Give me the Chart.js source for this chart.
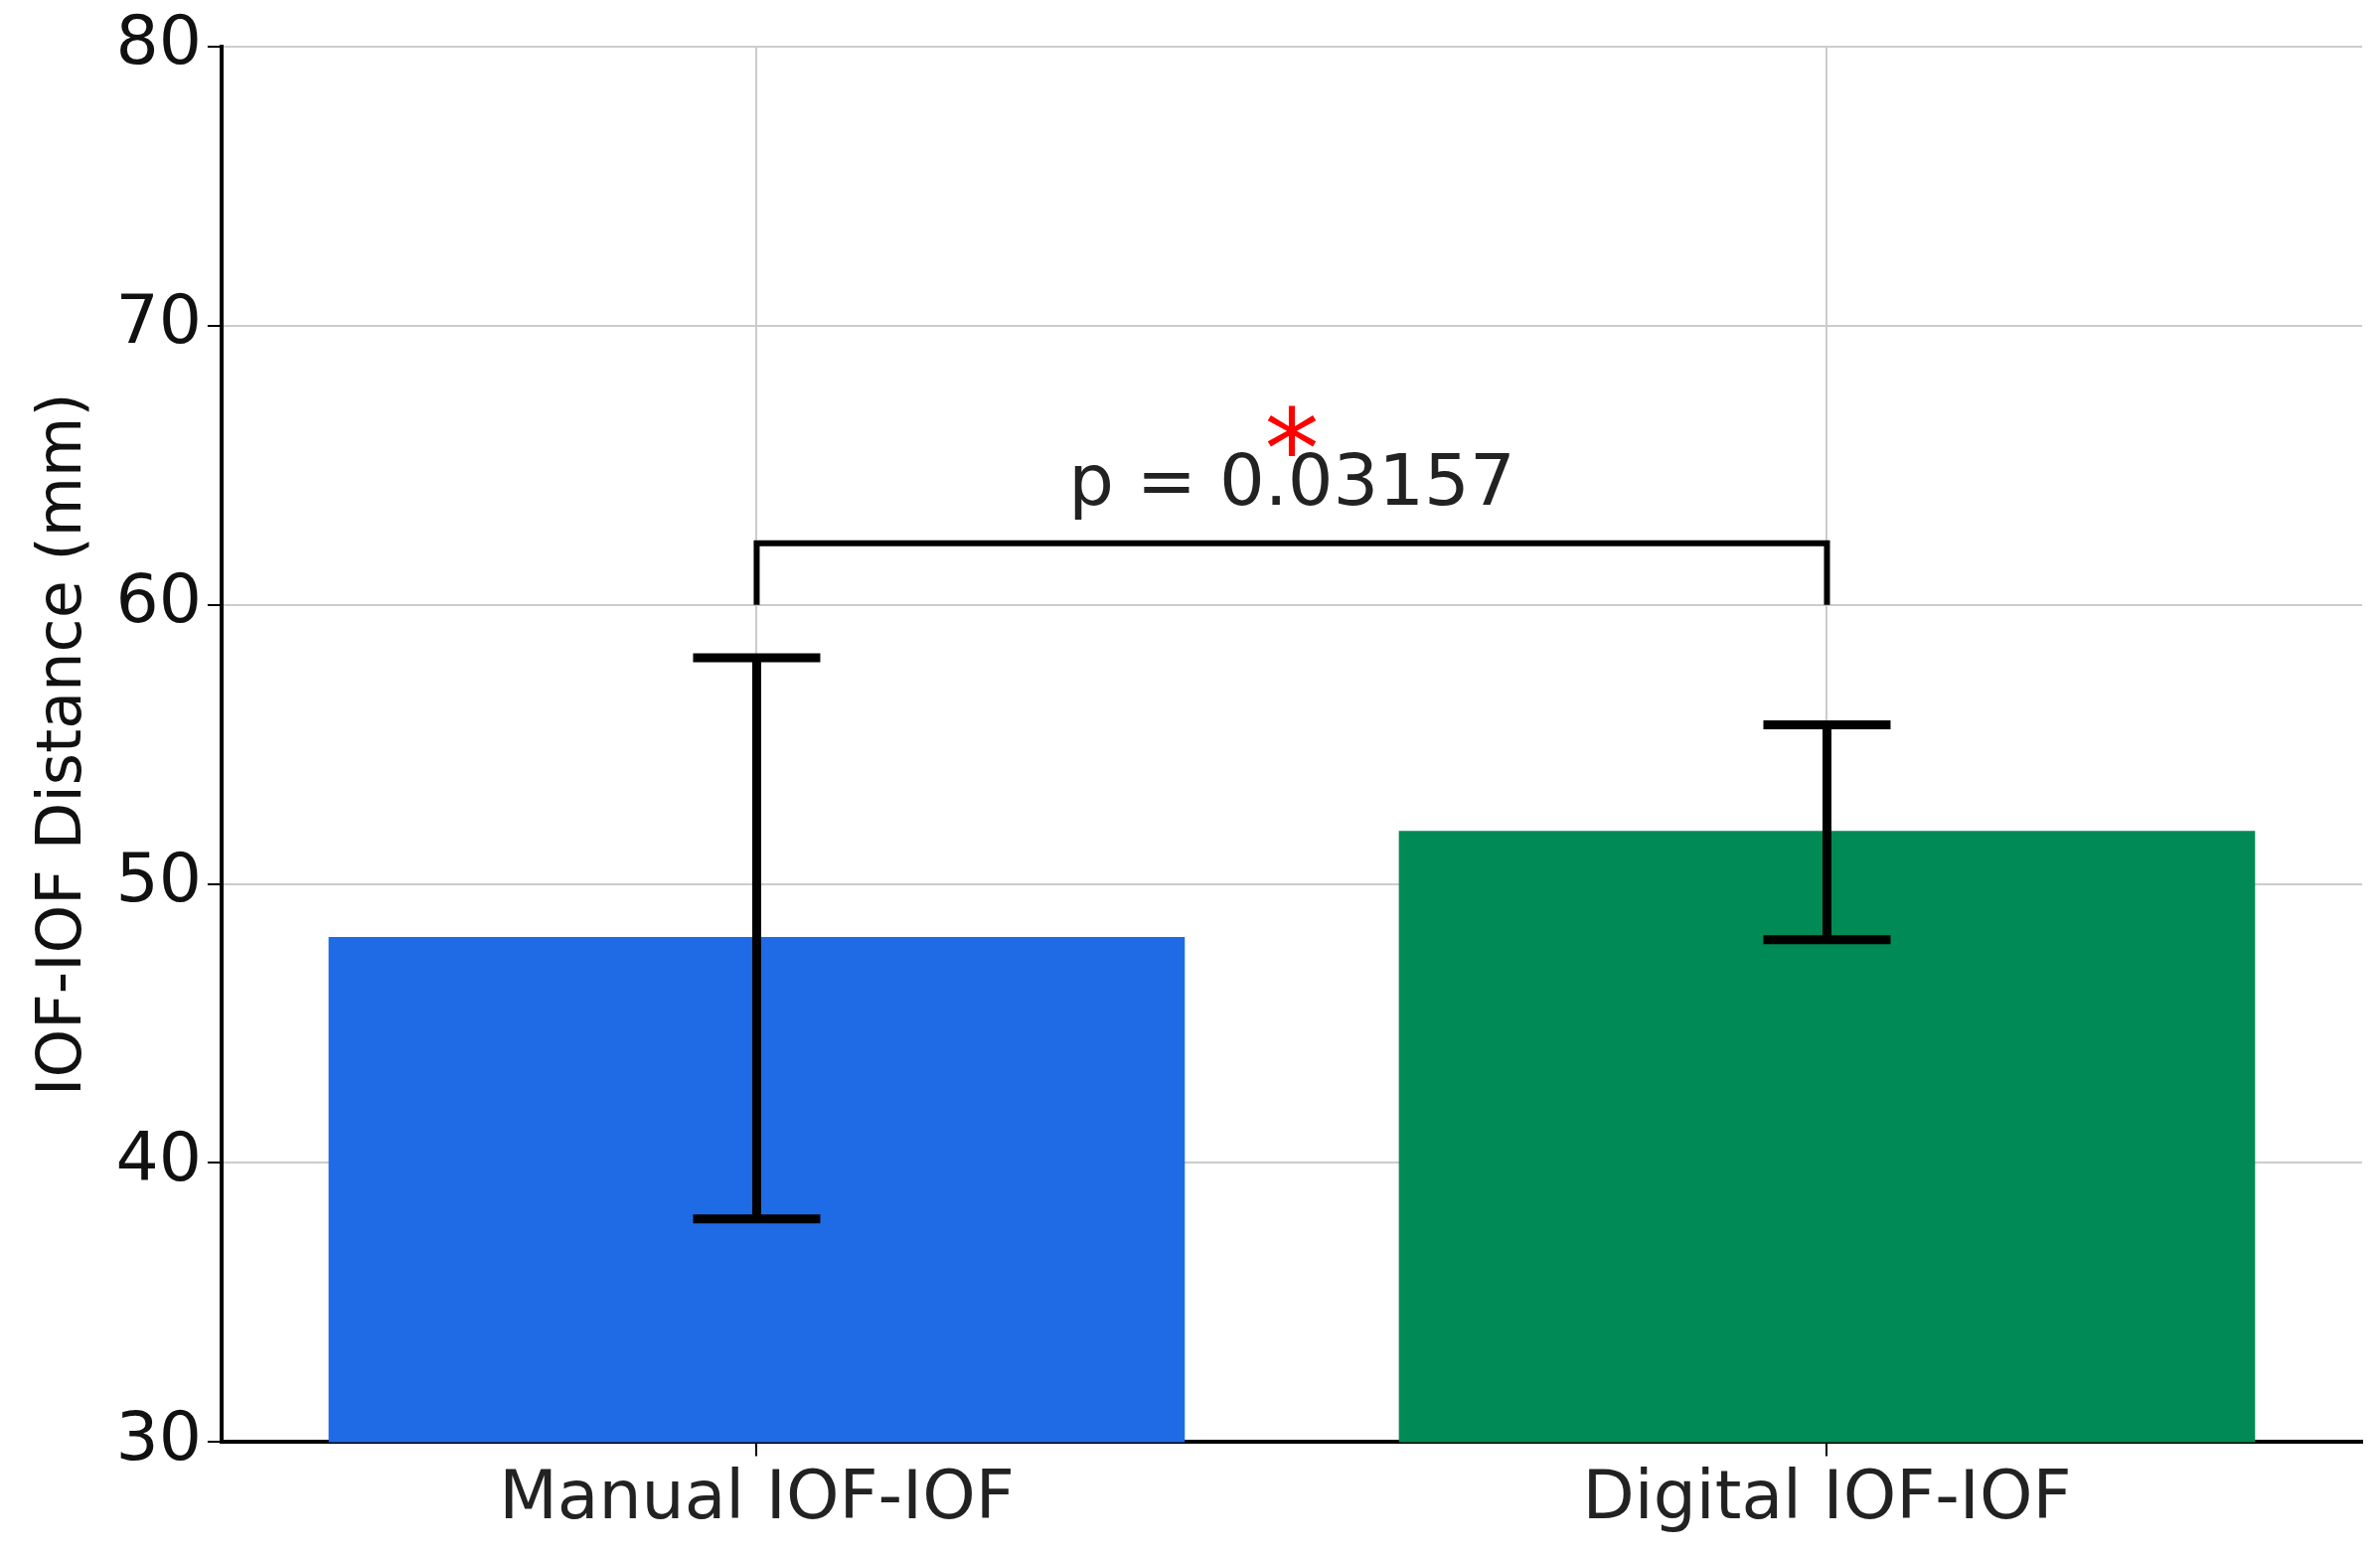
<!DOCTYPE html>
<html><head><meta charset="utf-8">
<script src="https://cdn.jsdelivr.net/npm/chart.js@4"></script>
<style>html,body{margin:0;padding:0;background:#fff}#c{width:2395px;height:1565px}</style>
</head><body><div id="c"><canvas id="cv"></canvas></div>
<script>
const categories = ["Manual IOF-IOF", "Digital IOF-IOF"];
const means = [48.1, 51.9];
const errLow = [38.0, 48.0];
const errHigh = [58.1, 55.7];
const yTicks = [30, 40, 50, 60, 70, 80];
const pText = "p = 0.03157";
const bracketY = 62.2, bracketFoot = 60.0, pTextY = 63.6, starY = 66.0;

const overlay = {
  id: 'overlay',
  afterDatasetsDraw(chart) {
    const ctx = chart.ctx, x = chart.scales.x, y = chart.scales.y;
    ctx.save();
    ctx.strokeStyle = '#000'; ctx.lineWidth = 9; ctx.lineCap = 'butt';
    means.forEach((m, i) => {
      const cx = x.getPixelForValue(i);
      const y1 = y.getPixelForValue(errLow[i]), y2 = y.getPixelForValue(errHigh[i]);
      ctx.beginPath();
      ctx.moveTo(cx, y1); ctx.lineTo(cx, y2);
      ctx.moveTo(cx - 64, y1); ctx.lineTo(cx + 64, y1);
      ctx.moveTo(cx - 64, y2); ctx.lineTo(cx + 64, y2);
      ctx.stroke();
    });
    const x0 = x.getPixelForValue(0), x1 = x.getPixelForValue(1);
    ctx.lineWidth = 6;
    ctx.beginPath();
    ctx.moveTo(x0, y.getPixelForValue(bracketFoot));
    ctx.lineTo(x0, y.getPixelForValue(bracketY));
    ctx.lineTo(x1, y.getPixelForValue(bracketY));
    ctx.lineTo(x1, y.getPixelForValue(bracketFoot));
    ctx.stroke();
    const mx = (x0 + x1) / 2;
    ctx.fillStyle = '#222'; ctx.textAlign = 'center'; ctx.textBaseline = 'alphabetic';
    ctx.font = '72px "DejaVu Sans"';
    ctx.fillText(pText, mx, y.getPixelForValue(pTextY));
    ctx.fillStyle = '#ff0000'; ctx.font = '110px "DejaVu Sans"';
    ctx.textBaseline = 'middle';
    ctx.fillText('*', mx, y.getPixelForValue(starY) + 22);
    ctx.restore();
  }
};

new Chart(document.getElementById('cv'), {
  type: 'bar',
  data: { labels: categories, datasets: [{ data: means, backgroundColor: ['#1f6be6', '#008a55'], barPercentage: 0.8, categoryPercentage: 1.0 }] },
  options: {
    responsive: true, maintainAspectRatio: false, animation: false,
    layout: { padding: { top: 30, right: 18, bottom: 10, left: 20 } },
    plugins: { legend: { display: false }, tooltip: { enabled: false } },
    scales: {
      x: {
        offset: true,
        grid: { offset: false, color: '#cccccc', lineWidth: 2, borderDash: [8, 6], tickColor: '#000', tickLength: 14, tickBorderDash: [] },
        border: { color: '#000', width: 4 },
        ticks: { color: '#222', font: { size: 68, family: 'DejaVu Sans' }, padding: 4 }
      },
      y: {
        min: 30, max: 80,
        afterBuildTicks: a => { a.ticks = yTicks.map(v => ({ value: v })); },
        grid: { color: '#cccccc', lineWidth: 2, borderDash: [8, 6], tickColor: '#000', tickLength: 14, tickBorderDash: [] },
        border: { color: '#000', width: 4 },
        ticks: { color: '#111', font: { size: 68, family: 'DejaVu Sans' }, padding: 6 },
        title: { display: true, text: 'IOF-IOF Distance (mm)', color: '#111', font: { size: 62, family: 'DejaVu Sans' }, padding: 8 }
      }
    }
  },
  plugins: [overlay]
});
</script></body></html>
